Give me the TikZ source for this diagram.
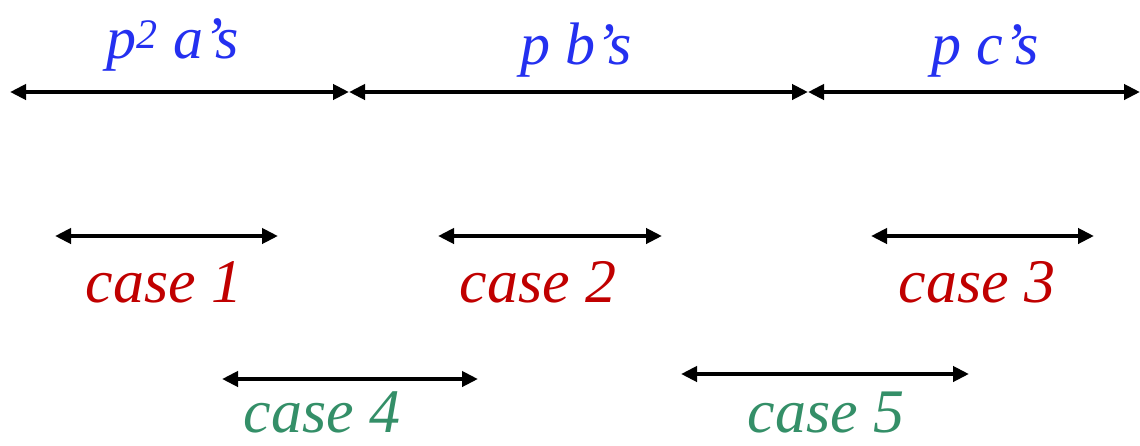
\documentclass[tikz,border=0pt]{standalone}
\usepackage{fontspec}
\setmainfont{LiberationSerif}[Extension=.ttf, UprightFont=*-Regular, ItalicFont=*-Italic, BoldFont=*-Bold]
\usetikzlibrary{arrows.meta}
\definecolor{setblue}{RGB}{36,48,240}
\definecolor{casered}{RGB}{192,0,0}
\definecolor{casegreen}{RGB}{52,143,104}
\begin{document}
\begin{tikzpicture}[x=1pt,y=-1pt,
    span/.style={line width=4pt, {Triangle[length=16pt,width=15pt]}-{Triangle[length=16pt,width=15pt]}},
    setlabel/.style={anchor=base, inner sep=0pt, text=setblue, font=\fontsize{60}{62}\selectfont\itshape},
    caselabel/.style={anchor=base, inner sep=0pt, font=\fontsize{62}{64}\selectfont\itshape}]
    \useasboundingbox (0,0) rectangle (1140,445);
    % the three blocks
    \coordinate (a0) at (10,92);
    \coordinate (a1) at (349,92);
    \coordinate (b1) at (808,92);
    \coordinate (c1) at (1140,92);
    \draw[span] (a0) -- (a1);
    \draw[span] (a1) -- (b1);
    \draw[span] (b1) -- (c1);
    \node[setlabel] (la) at (173,58) {p\textsuperscript{2} a’s};
    \node[setlabel] (lb) at (576,64) {p b’s};
    \node[setlabel] (lc) at (985,64) {p c’s};
    % cases inside one block
    \coordinate (s1) at (55,236);  \coordinate (e1) at (278,236);
    \coordinate (s2) at (438,236); \coordinate (e2) at (662,236);
    \coordinate (s3) at (871,236); \coordinate (e3) at (1094,236);
    \draw[span] (s1) -- (e1);
    \draw[span] (s2) -- (e2);
    \draw[span] (s3) -- (e3);
    \node[caselabel, text=casered] (case1) at (164,302) {case 1};
    \node[caselabel, text=casered] (case2) at (538,302) {case 2};
    \node[caselabel, text=casered] (case3) at (977,302) {case 3};
    % cases across two blocks
    \coordinate (s4) at (222,379); \coordinate (e4) at (478,379);
    \coordinate (s5) at (681,374); \coordinate (e5) at (969,374);
    \draw[span] (s4) -- (e4);
    \draw[span] (s5) -- (e5);
    \node[caselabel, text=casegreen] (case4) at (322,432) {case 4};
    \node[caselabel, text=casegreen] (case5) at (826,432) {case 5};
\end{tikzpicture}
\end{document}
